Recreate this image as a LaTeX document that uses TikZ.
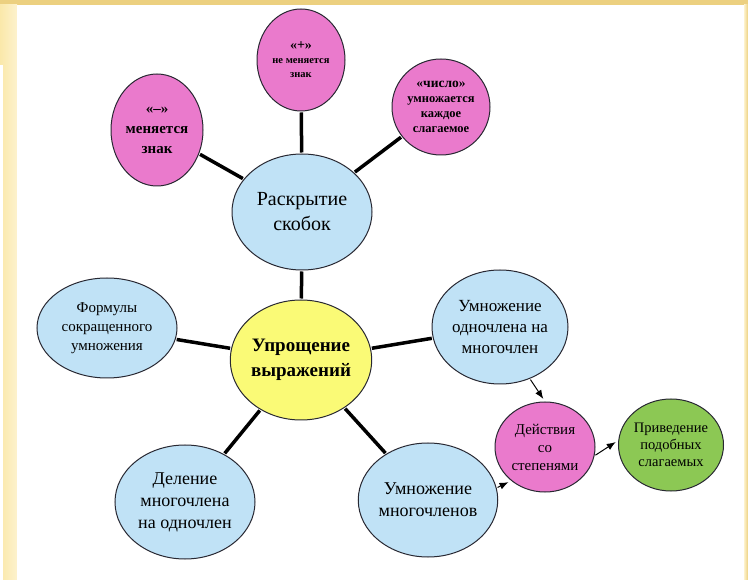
\documentclass[tikz,border=0pt]{standalone}
\usepackage{fontspec}
\setmainfont{Liberation Serif}
\newfontfamily\tnr{Liberation Serif}
\usetikzlibrary{shapes.geometric,arrows.meta}
\definecolor{creamA}{RGB}{236,208,128}
\definecolor{creamB}{RGB}{250,232,170}
\definecolor{creamC}{RGB}{253,242,205}
\definecolor{pinkF}{RGB}{234,122,204}
\definecolor{blueF}{RGB}{192,226,246}
\definecolor{yelF}{RGB}{250,250,118}
\definecolor{greenF}{RGB}{140,200,84}
\definecolor{edgeC}{RGB}{40,40,50}
\tikzset{
  bub/.style={ellipse, draw=edgeC, line width=1pt, inner sep=0pt, align=center, text=black},
  pinkb/.style={bub, fill=pinkF},
  blueb/.style={bub, fill=blueF},
  fs/.style 2 args={font=\tnr\fontsize{#1}{#2}\selectfont},
  fsb/.style 2 args={font=\tnr\bfseries\fontsize{#1}{#2}\selectfont},
  thick line/.style={line width=3.5pt, black, shorten <=1pt, shorten >=1pt},
  thin arrow/.style={line width=1pt, black, -{Latex[length=9pt,width=7pt]}, shorten <=1pt, shorten >=3pt}
}
\begin{document}
\begin{tikzpicture}[x=1pt,y=-1pt]
\useasboundingbox (0,0) rectangle (748,580);
% background frame
\fill[creamA] (0,0) rectangle (748,580);
\shade[left color=creamB, right color=creamC] (0,5) rectangle (17,580);
\fill[white] (0,65) rectangle (3,580);
\shade[left color=creamC, right color=creamA] (744,5) rectangle (748,580);
\fill[white] (17,5) rectangle (744,580);

% nodes
\node[pinkb, minimum width=92pt, minimum height=112pt, fsb={15}{20}] (minus) at (157,130)
  {«–»\\ меняется\\ знак};
\node[pinkb, minimum width=88pt, minimum height=102pt, fsb={10.5}{14}] (plus) at (301,60)
  {{\fontsize{14}{14}\selectfont«+»}\\ не меняется\\ знак};
\node[pinkb, minimum width=98pt, minimum height=96pt, fsb={12.5}{15}] (chislo) at (441,107)
  {{\fontsize{13.5}{15}\selectfont«число»}\\ умножается\\ каждое\\ слагаемое};
\node[blueb, minimum width=140pt, minimum height=116pt, fs={20}{25}] (rask) at (302,212)
  {Раскрытие\\ скобок};
\node[blueb, minimum width=140pt, minimum height=100pt, fs={15}{19}] (form) at (107,328)
  {Формулы\\ сокращенного\\ умножения};
\node[bub, fill=yelF, minimum width=136pt, minimum height=120pt, fsb={19}{25}] (upr) at (301,360)
  {Упрощение\\ выражений};
\node[blueb, minimum width=136pt, minimum height=114pt, fs={17}{21}] (umnod) at (500,327)
  {Умножение\\ одночлена на\\ многочлен};
\node[bub, fill=pinkF, minimum width=100pt, minimum height=90pt, fs={15}{18}] (deyst) at (545,447)
  {Действия\\ со\\ степенями};
\node[bub, fill=greenF, minimum width=102pt, minimum height=92pt, fs={14.5}{17}] (priv) at (671,445)
  {Приведение\\ подобных\\ слагаемых};
\node[blueb, minimum width=140pt, minimum height=114pt, fs={18}{22}] (delen) at (185,502)
  {Деление\\ многочлена\\ на одночлен};
\node[blueb, minimum width=136pt, minimum height=114pt, fs={18}{22}] (umnmn) at (428,500)
  {Умножение\\ многочленов};

% thick connectors
\draw[thick line] (minus) -- (rask);
\draw[thick line] (plus) -- (rask);
\draw[thick line] (chislo) -- (rask);
\draw[thick line] (rask) -- (upr);
\draw[thick line] (form) -- (upr);
\draw[thick line] (umnod) -- (upr);
\draw[thick line] (upr) -- (delen);
\draw[thick line] (upr) -- (umnmn);

% thin arrows
\draw[thin arrow] (umnod.-60) -- (deyst.north);
\draw[thin arrow] (umnmn.10) -- (deyst.-135);
\draw[thin arrow] (deyst.-10) -- (priv.175);
\end{tikzpicture}
\end{document}
